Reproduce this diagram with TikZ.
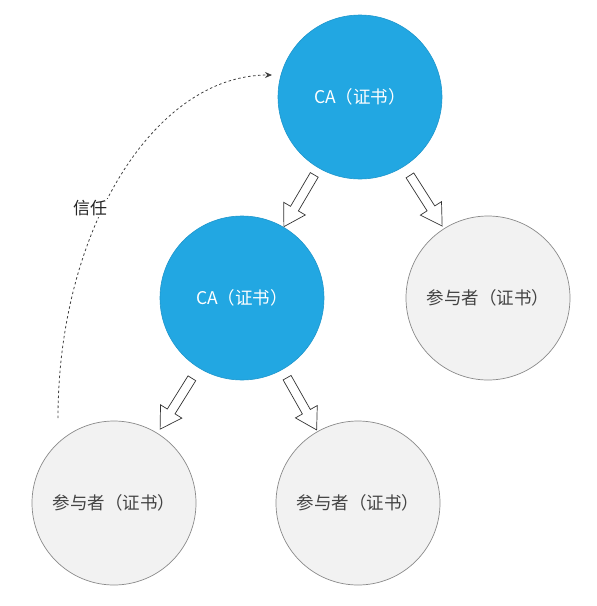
\documentclass[tikz,border=0pt]{standalone}
\usepackage{fontspec}
\newfontfamily\cjk{Noto Sans CJK SC}
\usetikzlibrary{shapes.arrows,calc,arrows.meta}
\definecolor{cablue}{HTML}{22A7E2}
\definecolor{caedge}{HTML}{1E96CC}
\definecolor{pfill}{HTML}{F2F2F2}
\definecolor{pedge}{HTML}{8A8A8A}
\definecolor{ptext}{HTML}{444444}
\tikzset{
  circ/.style={circle, minimum size=164pt, inner sep=0pt, font=\cjk\fontsize{17.5}{20}\selectfont},
  ca/.style={circ, fill=cablue, draw=caedge, line width=0.6pt, text=white},
  party/.style={circ, fill=pfill, draw=pedge, line width=0.7pt, text=ptext},
  blockarrow/.style={single arrow, draw=black!80, fill=white, line width=0.7pt,
    inner sep=4.2pt, minimum height=60pt, single arrow head extend=8pt,
    single arrow tip angle=62},
  trust/.style={draw=black!75, line width=0.8pt, dash pattern=on 2.5pt off 2.5pt,
    -{Stealth[length=7pt,width=6pt]}},
  lbl/.style={fill=white, inner sep=1pt, text=black!85, font=\cjk\fontsize{17}{20}\selectfont}
}
\begin{document}
\begin{tikzpicture}[x=1pt,y=-1pt]
\useasboundingbox (0,0) rectangle (597,606);
\node[ca] (top) at (360,97) {CA（证书）};
\node[ca] (mid) at (242,298) {CA（证书）};
\node[party] (right) at (488,298) {参与者（证书）};
\node[party] (bl) at (114,503) {参与者（证书）};
\node[party] (bm) at (358,503) {参与者（证书）};
\foreach \a/\b in {top/mid, top/right, mid/bl, mid/bm}
  \path let \p1=($(\b)-(\a)$), \n1={atan2(\y1,\x1)} in
    node[blockarrow, rotate=\n1, name=arr-\a-\b] at ($(\a)!0.5!(\b)$) {};
\coordinate (ts) at (58,418);
\coordinate (te) at (272,75);
\draw[trust] (ts) .. controls (58,230) and (154,75) .. (te);
\node[lbl] (trustlbl) at (90,208) {信任};
\end{tikzpicture}
\end{document}
